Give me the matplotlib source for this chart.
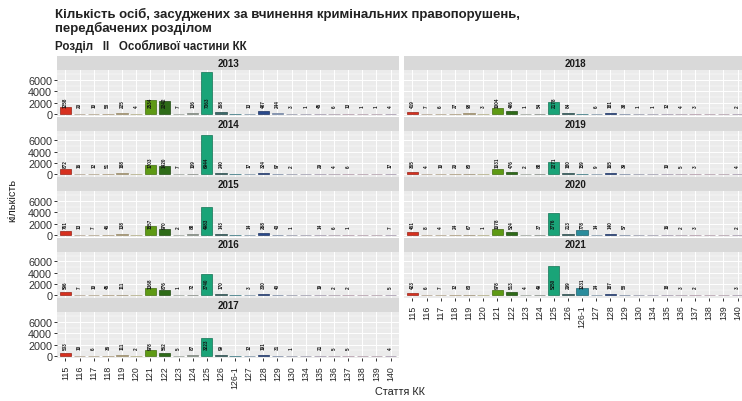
import matplotlib
matplotlib.use("Agg")
import matplotlib.pyplot as plt
import numpy as np

plt.rcParams['font.family'] = ['Liberation Sans', 'DejaVu Sans']

categories = ["115", "116", "117", "118", "119", "120", "121", "122", "123", "124",
              "125", "126", "126-1", "127", "128", "129", "130", "134", "135", "136",
              "137", "138", "139", "140"]

N = None
values = {
    "2013": [1258, 20, 10, 58, 225, 4, 2534, 2242, 7, 136, 7363, 368, N, 13, 487, 244, 3, 1, 45, 6, 13, 1, 1, 4],
    "2014": [872, 16, 12, 51, 188, N, 1703, 1420, 7, 109, 6944, 240, N, 17, 324, 97, 2, N, 29, 4, 6, N, N, 17],
    "2015": [761, 13, 7, 46, 138, N, 1557, 970, 2, 88, 4983, 143, N, 14, 268, 43, 1, N, 14, 6, 1, N, N, 7],
    "2016": [596, 7, 10, 45, 111, N, 1368, 876, 1, 72, 3740, 170, N, 3, 330, 40, N, N, 19, 2, 2, N, N, 5],
    "2017": [533, 10, 6, 36, 111, 2, 978, 562, 5, 87, 3223, 99, N, 12, 191, 31, 1, N, 21, 5, 5, N, N, 4],
    "2018": [419, 7, 6, 27, 98, 3, 1004, 486, 1, 54, 2178, 84, N, 6, 181, 38, 1, 1, 12, 4, 3, N, N, 2],
    "2019": [365, 4, 10, 20, 80, N, 1031, 476, 2, 88, 2271, 180, 159, 9, 165, 39, N, N, 10, 5, 3, N, N, 4],
    "2020": [461, 8, 4, 24, 67, 1, 1078, 524, N, 37, 3776, 213, 778, 14, 140, 57, N, N, 16, 2, 3, N, N, 2],
    "2021": [423, 6, 7, 12, 83, N, 978, 513, 4, 49, 5250, 299, 1231, 24, 187, 58, N, N, 18, 3, 2, N, N, 3],
}

colors = ["#d7301f", "#f3dcc0", "#f0dcb8", "#e2c99a", "#cdb98e", "#eee8a8",
          "#5e9a14", "#2e6b18", "#d2dcd0", "#a8b4a8", "#1aa478", "#3a6a6a",
          "#2a8c9c", "#a8c8e2", "#2a4a8c", "#9cb2da", "#c8cce8", "#d4cfea",
          "#d8c8e8", "#e6d0e8", "#eec8e0", "#f0d0e4", "#f0d4e8", "#dcc8e8"]

W, H = 742, 402
fig = plt.figure(figsize=(W / 100, H / 100), dpi=100)
fig.patch.set_facecolor("white")

def px_axes(x0, y0, x1, y1):
    return fig.add_axes([x0 / W, 1 - y1 / H, (x1 - x0) / W, (y1 - y0) / H])

fig.text(55 / W, 1 - 8 / H,
         "Кількість осіб, засуджених за вчинення кримінальних правопорушень,\nпередбачених розділом",
         fontsize=9.5, fontweight="bold", color="#222222", va="top", ha="left", linespacing=1.05)
fig.text(55 / W, 1 - 46 / H, "Розділ   II   Особливої частини КК",
         fontsize=8.3, fontweight="bold", color="#222222", va="center", ha="left")

years_left = ["2013", "2014", "2015", "2016", "2017"]
years_right = ["2018", "2019", "2020", "2021"]
cols = [(57, 399, years_left), (404, 746, years_right)]

x = np.arange(len(categories))
ymax = 7363 * 1.05
ymin = -7363 * 0.05

for ci, (x0, x1, yrs) in enumerate(cols):
    for ri, yr in enumerate(yrs):
        top = 57 + 60.5 * ri
        strip = px_axes(x0, top, x1, top + 14)
        strip.set_facecolor("#d9d9d9")
        strip.set_xticks([]); strip.set_yticks([])
        for s in strip.spines.values():
            s.set_visible(False)
        strip.text(0.5, 0.5, yr, transform=strip.transAxes, ha="center", va="center",
                   fontsize=7, fontweight="bold", color="#1a1a1a")

        ax = px_axes(x0, top + 14, x1, top + 60)
        ax.set_facecolor("#ebebeb")
        ax.set_xlim(-0.6, len(categories) - 0.4)
        ax.set_ylim(ymin, ymax)
        ax.set_yticks([0, 2000, 4000, 6000])
        ax.set_yticks([1000, 3000, 5000, 7000], minor=True)
        ax.set_xticks(x)
        ax.grid(True, which="major", color="white", linewidth=0.7)
        ax.grid(True, which="minor", axis="y", color="white", linewidth=0.35)
        ax.set_axisbelow(True)
        for s in ax.spines.values():
            s.set_visible(False)
        ax.tick_params(axis="y", which="minor", length=0)
        ax.tick_params(axis="y", which="major", length=2.5, width=0.7, color="#333333",
                       labelsize=7.8, labelcolor="#333333", pad=1)
        if ci == 1:
            ax.tick_params(axis="y", labelleft=False, length=0)
        vals = values[yr]
        hv = [v if v is not None else 0 for v in vals]
        edge = [np.array(matplotlib.colors.to_rgb(c)) * 0.7 for c in colors]
        ax.bar(x, hv, width=0.8, color=colors, edgecolor=edge, linewidth=0.5)
        for xi, v in zip(x, vals):
            if v is None:
                continue
            ax.text(xi, 1300, str(v), rotation=90, ha="center", va="bottom",
                    fontsize=3.3, color="#111111", fontweight="bold")
        last = (ri == len(yrs) - 1)
        if last:
            ax.set_xticklabels(categories, rotation=90, fontsize=6.3, color="#222222")
            ax.tick_params(axis="x", length=2.5, width=0.7, color="#333333", pad=2.5)
        else:
            ax.tick_params(axis="x", labelbottom=False, length=0)

fig.text(400 / W, 1 - 392 / H, "Стаття КК", fontsize=7.8, color="#222222",
         ha="center", va="center")
fig.text(12 / W, 1 - 200 / H, "кількість", fontsize=7.8, color="#222222",
         ha="center", va="center", rotation=90)

fig.savefig("out.png", dpi=100)
